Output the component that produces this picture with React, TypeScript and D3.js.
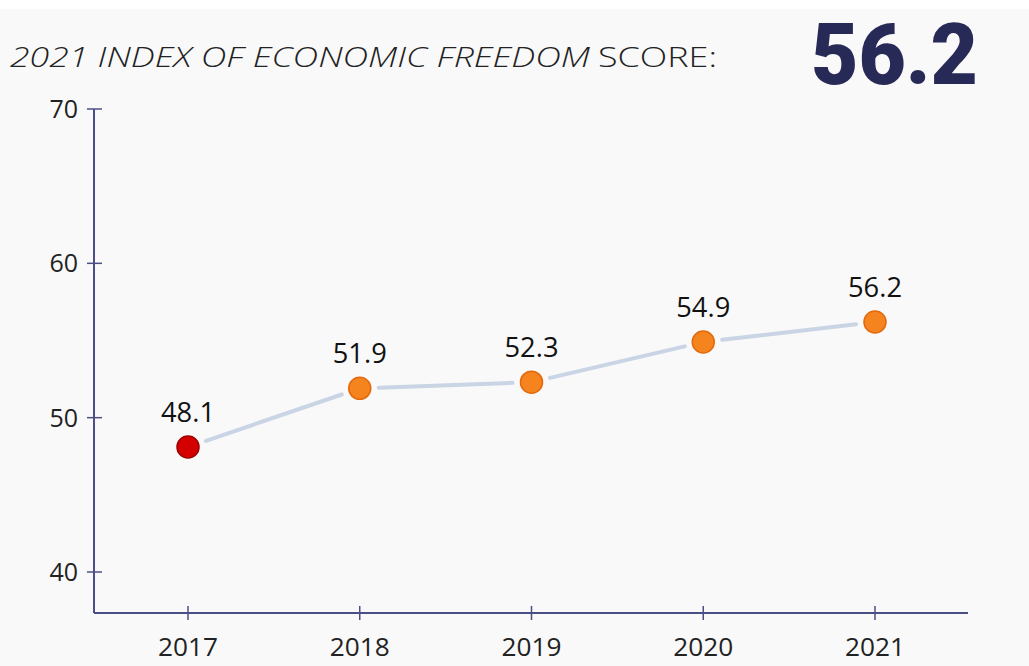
import React from "react";
import * as d3 from "d3";

const years = ["2017", "2018", "2019", "2020", "2021"];
const scores = [48.1, 51.9, 52.3, 54.9, 56.2];
const pointColors = ["#d40000", "#f5841f", "#f5841f", "#f5841f", "#f5841f"];
const pointStrokes = ["#a00000", "#e26a0c", "#e26a0c", "#e26a0c", "#e26a0c"];
const yTicks = [40, 50, 60, 70];
const titleItalic = "2021 INDEX OF ECONOMIC FREEDOM";
const titleRegular = "SCORE:";
const headlineScore = "56.2";

const W = 1029;
const H = 666;
const axisX = 94;
const axisY = 613;
const axisRight = 968;

export default function App() {
  const y = d3.scaleLinear().domain([40, 70]).range([572, 109]);
  const x = d3.scalePoint<string>().domain(years).range([188, 875]);
  const r = 11;
  const font = "'Open Sans', sans-serif";
  const pts = years.map((yr, i) => ({ x: x(yr) as number, y: y(scores[i]) }));

  const segs = pts.slice(0, -1).map((p, i) => {
    const q = pts[i + 1];
    const dx = q.x - p.x;
    const dy = q.y - p.y;
    const len = Math.hypot(dx, dy);
    const gap = r + 8;
    return {
      x1: p.x + (dx / len) * gap,
      y1: p.y + (dy / len) * gap,
      x2: q.x - (dx / len) * gap,
      y2: q.y - (dy / len) * gap,
    };
  });

  return (
    <svg
      width={W}
      height={H}
      style={{ position: "absolute", left: 0, top: 0, display: "block" }}
    >
      <rect x={0} y={0} width={W} height={H} fill="#f9f9f9" />
      <rect x={0} y={0} width={W} height={9} fill="#ffffff" />

      <text
        x={10}
        y={67}
        fontFamily={font}
        fontStyle="italic"
        fontWeight={300}
        fontSize={27}
        fill="#222"
        textLength={580}
        lengthAdjust="spacingAndGlyphs"
      >
        {titleItalic}
      </text>
      <text
        x={598}
        y={67}
        fontFamily={font}
        fontWeight={300}
        fontSize={27}
        fill="#222"
        textLength={119}
        lengthAdjust="spacingAndGlyphs"
      >
        {titleRegular}
      </text>
      <text
        x={811}
        y={84}
        fontFamily="Roboto, 'DejaVu Sans', sans-serif"
        fontWeight={900}
        fontSize={86}
        fill="#272957"
        textLength={167}
        lengthAdjust="spacingAndGlyphs"
      >
        {headlineScore}
      </text>

      {/* Y axis */}
      <line x1={axisX} y1={109} x2={axisX} y2={axisY} stroke="#4b4f86" strokeWidth={2} />
      {yTicks.map((t) => (
        <g key={t}>
          <line x1={87} x2={102} y1={y(t)} y2={y(t)} stroke="#4b4f86" strokeWidth={1.5} />
          <text
            x={78}
            y={y(t) + 9}
            textAnchor="end"
            fontFamily={font}
            fontSize={25}
            fill="#222"
          >
            {t}
          </text>
        </g>
      ))}

      {/* X axis */}
      <line x1={axisX} y1={axisY} x2={axisRight} y2={axisY} stroke="#4b4f86" strokeWidth={2} />
      {years.map((yr) => (
        <g key={yr}>
          <line
            x1={x(yr) as number}
            x2={x(yr) as number}
            y1={606}
            y2={620}
            stroke="#4b4f86"
            strokeWidth={1.5}
          />
          <text
            x={x(yr) as number}
            y={656}
            textAnchor="middle"
            fontFamily={font}
            fontSize={26}
            fill="#222"
            textLength={60}
            lengthAdjust="spacingAndGlyphs"
          >
            {yr}
          </text>
        </g>
      ))}

      {/* connecting line */}
      {segs.map((s, i) => (
        <line
          key={i}
          x1={s.x1}
          y1={s.y1}
          x2={s.x2}
          y2={s.y2}
          stroke="#c9d4e5"
          strokeWidth={4}
          strokeLinecap="round"
        />
      ))}

      {/* points */}
      {pts.map((p, i) => (
        <g key={years[i]}>
          <circle cx={p.x} cy={p.y} r={r} fill={pointColors[i]} stroke={pointStrokes[i]} strokeWidth={1.5} />
          <text
            x={p.x}
            y={p.y - 25}
            textAnchor="middle"
            fontFamily={font}
            fontSize={27}
            fill="#111"
            textLength={54}
            lengthAdjust="spacingAndGlyphs"
          >
            {scores[i].toFixed(1)}
          </text>
        </g>
      ))}
    </svg>
  );
}
